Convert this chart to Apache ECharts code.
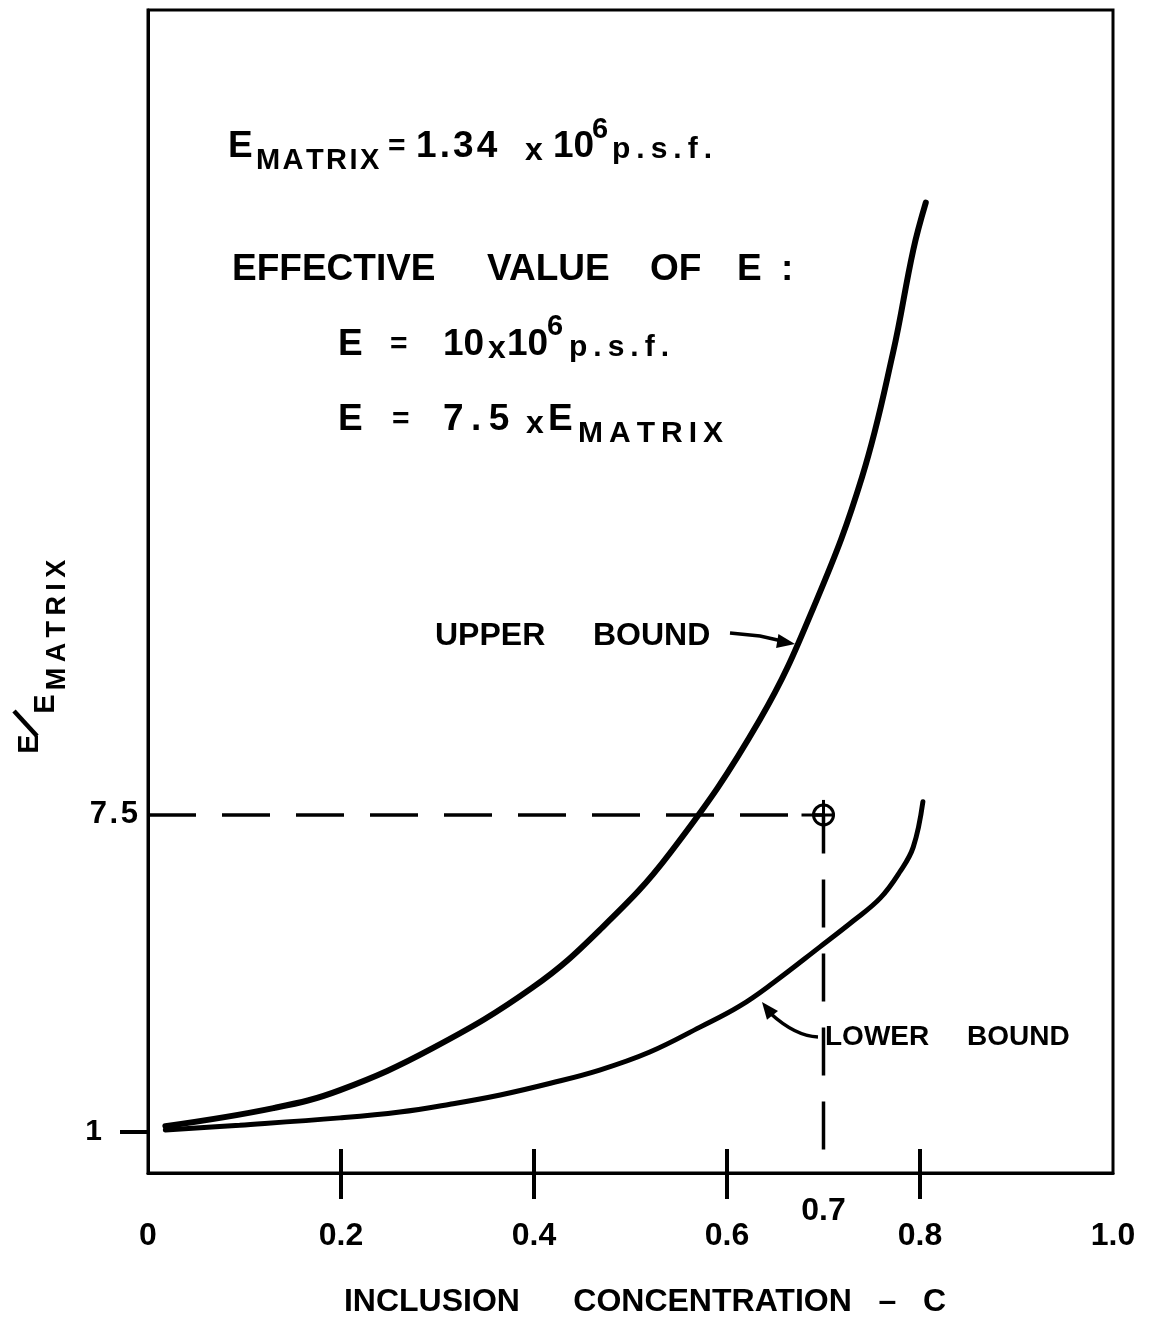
<!DOCTYPE html>
<html><head><meta charset="utf-8">
<script src="https://cdn.jsdelivr.net/npm/echarts@6/dist/echarts.min.js"></script>
<style>html,body{margin:0;padding:0;background:#fff}#c{width:1152px;height:1322px}</style>
</head><body><div id="c"></div>
<script>
// ---- data ----
const concentrationUpper = [0.018, 0.130, 0.199, 0.295, 0.399, 0.468, 0.541, 0.634, 0.693, 0.740, 0.772, 0.793, 0.806];
const ratioUpper = [1.12, 1.49, 1.86, 2.72, 3.97, 5.14, 6.72, 9.45, 11.91, 14.43, 16.97, 19.08, 20.05];
const concentrationLower = [0.018, 0.095, 0.199, 0.261, 0.313, 0.365, 0.417, 0.468, 0.520, 0.572, 0.613, 0.648, 0.696, 0.731, 0.759, 0.779, 0.793, 0.803];
const ratioLower = [1.04, 1.14, 1.29, 1.41, 1.57, 1.76, 2.00, 2.27, 2.64, 3.15, 3.58, 4.06, 4.79, 5.33, 5.80, 6.33, 6.84, 7.77];
const effectiveC = [0.7];
const effectiveRatio = [7.5];
const xTickValues = [0.2, 0.4, 0.6, 0.8];
const xLabelValues = [0, 0.2, 0.4, 0.6, 0.8, 1.0];
const xLabelRaisedValues = [0.7];
const yTickValues = [1];
const yLabelValues = [1, 7.5];
const xMin = 0, xMax = 1, yMin = 0.16, yMax = 24;

const FONT = '"Liberation Sans", Arial, sans-serif';
const BLACK = '#000';
const HS = '\u200A', TS = '\u2009';

function txt(x, y, s, size, extra) {
  extra = extra || {};
  return {
    type: 'text', x: x, y: y, rotation: extra.rotation || 0, z: 10,
    style: {
      text: s, fill: BLACK, fontFamily: FONT, fontWeight: extra.weight || 'bold',
      fontSize: size, align: extra.align || 'left', verticalAlign: 'middle'
    }
  };
}
function arrowHead(tipX, tipY, fromX, fromY, len, hw) {
  const dx = tipX - fromX, dy = tipY - fromY, d = Math.hypot(dx, dy);
  const ux = dx / d, uy = dy / d, px = -uy, py = ux;
  const bx = tipX - ux * len, by = tipY - uy * len;
  return { type: 'polygon', z: 10, shape: { points: [[tipX, tipY], [bx + px * hw, by + py * hw], [bx - px * hw, by - py * hw]] }, style: { fill: BLACK } };
}
const zip = (a, b) => a.map((v, i) => [v, b[i]]);
const spaced = (s, sp) => s.split('').join(sp);

const chart = echarts.init(document.getElementById('c'), null, { renderer: 'canvas' });

const labelStyle = { color: BLACK, fontFamily: FONT, fontWeight: 'bold', fontSize: 32 };

const option = {
  animation: false,
  backgroundColor: '#fff',
  grid: { left: 148, right: 39, top: 10, bottom: 149, show: true, borderColor: BLACK, borderWidth: 3, containLabel: false },
  xAxis: [{
    type: 'value', min: xMin, max: xMax, position: 'bottom',
    axisLine: { show: true, onZero: false, lineStyle: { color: BLACK, width: 3 } },
    axisTick: { show: true, inside: false, length: 26, customValues: xTickValues, lineStyle: { color: BLACK, width: 4 } },
    axisLabel: Object.assign({ show: true, margin: 47, customValues: xLabelValues, formatter: v => v === 0 ? '0' : v.toFixed(1) }, labelStyle),
    splitLine: { show: false }
  }, {
    type: 'value', min: xMin, max: xMax, position: 'bottom', offset: 0,
    axisLine: { show: false, onZero: false },
    axisTick: { show: true, inside: true, length: 24, customValues: xTickValues, lineStyle: { color: BLACK, width: 4 } },
    axisLabel: Object.assign({ show: true, margin: 22, customValues: xLabelRaisedValues, formatter: v => v.toFixed(1) }, labelStyle),
    splitLine: { show: false }
  }],
  yAxis: {
    type: 'value', min: yMin, max: yMax,
    axisLine: { show: true, onZero: false, lineStyle: { color: BLACK, width: 3 } },
    axisTick: { show: true, inside: false, length: 28, customValues: yTickValues, lineStyle: { color: BLACK, width: 4 } },
    axisLabel: {
      show: true, margin: 10, customValues: yLabelValues, color: BLACK,
      formatter: v => v === 1 ? '{one|1}' : '{n|' + spaced(String(v), HS) + '}',
      rich: {
        one: { fontFamily: FONT, fontWeight: 'bold', fontSize: 30, color: BLACK, padding: [0, 36, 0, 0] },
        n: { fontFamily: FONT, fontWeight: 'bold', fontSize: 31, color: BLACK }
      }
    },
    splitLine: { show: false }
  },
  series: [
    {
      name: 'guide', type: 'line', z: 2, silent: true, showSymbol: false,
      data: [[xMin, effectiveRatio[0]], [effectiveC[0], effectiveRatio[0]], [effectiveC[0], yMin]],
      lineStyle: { color: BLACK, width: 3.5, type: [48, 26] }
    },
    {
      name: 'Upper bound', type: 'line', z: 3, smooth: 0.4, showSymbol: false,
      data: zip(concentrationUpper, ratioUpper),
      lineStyle: { color: BLACK, width: 6, cap: 'round' }
    },
    {
      name: 'Lower bound', type: 'line', z: 3, smooth: 0.4, showSymbol: false,
      data: zip(concentrationLower, ratioLower),
      lineStyle: { color: BLACK, width: 5, cap: 'round' }
    },
    {
      name: 'Effective value', type: 'custom', z: 4,
      data: zip(effectiveC, effectiveRatio),
      renderItem: function (params, api) {
        const p = api.coord([api.value(0), api.value(1)]);
        const st = { stroke: BLACK, lineWidth: 3, fill: null };
        return {
          type: 'group', children: [
            { type: 'circle', shape: { cx: p[0], cy: p[1], r: 10 }, style: st },
            { type: 'line', shape: { x1: p[0], y1: p[1] - 15, x2: p[0], y2: p[1] + 26 }, style: st },
            { type: 'line', shape: { x1: p[0] - 22, y1: p[1], x2: p[0] + 11, y2: p[1] }, style: st }
          ]
        };
      }
    }
  ],
  graphic: [
    // header text block
    txt(228, 147, 'E', 37),
    txt(256, 161, spaced('MATRIX', HS), 29),
    txt(388, 147, '=', 30),
    txt(416, 147, spaced('1.34', HS), 37),
    txt(525, 151, 'x', 32),
    txt(553, 147, '10', 37),
    txt(592, 130, '6', 29),
    txt(612, 150, spaced('p.s.f.', TS), 30),

    txt(232, 270, 'EFFECTIVE', 37),
    txt(487, 270, 'VALUE', 37),
    txt(650, 270, 'OF', 37),
    txt(737, 270, 'E', 37),
    txt(781, 270, ':', 37),

    txt(338, 345, 'E', 37),
    txt(390, 345, '=', 30),
    txt(443, 345, '10', 37),
    txt(488, 349, 'x', 32),
    txt(507, 345, '10', 37),
    txt(547, 327, '6', 29),
    txt(569, 348, spaced('p.s.f.', TS), 30),

    txt(338, 420, 'E', 37),
    txt(392, 420, '=', 30),
    txt(443, 420, spaced('7.5', TS), 37),
    txt(526, 424, 'x', 32),
    txt(548, 420, 'E', 37),
    txt(578, 434, spaced('MATRIX', TS), 30),

    // curve labels
    txt(435, 636, 'UPPER', 32),
    txt(593, 636, 'BOUND', 32),
    txt(825, 1037, 'LOWER', 28),
    txt(967, 1037, 'BOUND', 28),

    // arrows
    { type: 'polyline', z: 10, shape: { points: [[730, 633], [760, 636], [782, 641]] }, style: { stroke: BLACK, lineWidth: 3.5, fill: null } },
    arrowHead(795, 644, 730, 633, 18, 7),
    { type: 'bezierCurve', z: 10, shape: { x1: 818, y1: 1037, cpx1: 795, cpy1: 1036, x2: 770, y2: 1013 }, style: { stroke: BLACK, lineWidth: 3.5, fill: null } },
    arrowHead(762, 1002, 773, 1016, 17, 7),

    // y-axis title
    txt(30, 744, 'E', 29, { rotation: Math.PI / 2, align: 'center' }),
    { type: 'line', z: 10, shape: { x1: 14, y1: 711, x2: 37, y2: 736 }, style: { stroke: BLACK, lineWidth: 4.5 } },
    txt(46, 704, 'E', 29, { rotation: Math.PI / 2, align: 'center' }),
    txt(58, 625, spaced('MATRIX', TS), 27, { rotation: Math.PI / 2, align: 'center' }),

    // x-axis title
    txt(645, 1302, 'INCLUSION      CONCENTRATION   \u2013   C', 32, { align: 'center' })
  ]
};
chart.setOption(option);
</script>
</body></html>
